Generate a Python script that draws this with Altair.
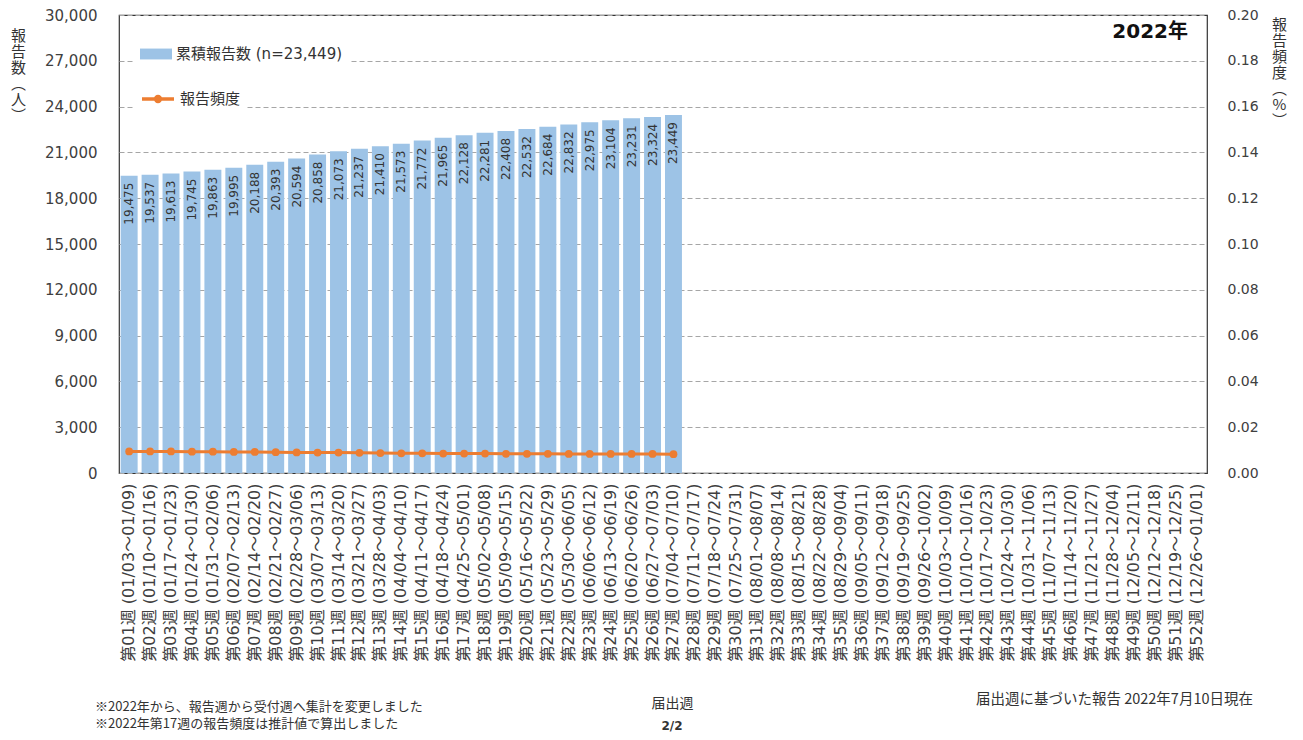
import altair as alt
import pandas as pd

weeks = [
    "第01週 (01/03～01/09)", "第02週 (01/10～01/16)", "第03週 (01/17～01/23)", "第04週 (01/24～01/30)",
    "第05週 (01/31～02/06)", "第06週 (02/07～02/13)", "第07週 (02/14～02/20)", "第08週 (02/21～02/27)",
    "第09週 (02/28～03/06)", "第10週 (03/07～03/13)", "第11週 (03/14～03/20)", "第12週 (03/21～03/27)",
    "第13週 (03/28～04/03)", "第14週 (04/04～04/10)", "第15週 (04/11～04/17)", "第16週 (04/18～04/24)",
    "第17週 (04/25～05/01)", "第18週 (05/02～05/08)", "第19週 (05/09～05/15)", "第20週 (05/16～05/22)",
    "第21週 (05/23～05/29)", "第22週 (05/30～06/05)", "第23週 (06/06～06/12)", "第24週 (06/13～06/19)",
    "第25週 (06/20～06/26)", "第26週 (06/27～07/03)", "第27週 (07/04～07/10)", "第28週 (07/11～07/17)",
    "第29週 (07/18～07/24)", "第30週 (07/25～07/31)", "第31週 (08/01～08/07)", "第32週 (08/08～08/14)",
    "第33週 (08/15～08/21)", "第34週 (08/22～08/28)", "第35週 (08/29～09/04)", "第36週 (09/05～09/11)",
    "第37週 (09/12～09/18)", "第38週 (09/19～09/25)", "第39週 (09/26～10/02)", "第40週 (10/03～10/09)",
    "第41週 (10/10～10/16)", "第42週 (10/17～10/23)", "第43週 (10/24～10/30)", "第44週 (10/31～11/06)",
    "第45週 (11/07～11/13)", "第46週 (11/14～11/20)", "第47週 (11/21～11/27)", "第48週 (11/28～12/04)",
    "第49週 (12/05～12/11)", "第50週 (12/12～12/18)", "第51週 (12/19～12/25)", "第52週 (12/26～01/01)",
]

reports = [19475, 19537, 19613, 19745, 19863, 19995, 20188, 20393, 20594, 20858,
           21073, 21237, 21410, 21573, 21772, 21965, 22128, 22281, 22408, 22532,
           22684, 22832, 22975, 23104, 23231, 23324, 23449]

freq = [0.0094, 0.0094, 0.0094, 0.0093, 0.0093, 0.0092, 0.0092, 0.0091, 0.0090, 0.0089,
        0.0089, 0.0088, 0.0087, 0.0086, 0.0086, 0.0085, 0.0085, 0.0085, 0.0084, 0.0084,
        0.0084, 0.0083, 0.0083, 0.0083, 0.0083, 0.0083, 0.0082]

left_ticks = [0, 3000, 6000, 9000, 12000, 15000, 18000, 21000, 24000, 27000, 30000]
right_ticks = [0.0, 0.02, 0.04, 0.06, 0.08, 0.10, 0.12, 0.14, 0.16, 0.18, 0.20]

bar_series = "累積報告数 (n=23,449)"
line_series = "報告頻度"
year_label = "2022年"
x_title = "届出週"
note1 = "※2022年から、報告週から受付週へ集計を変更しました"
note2 = "※2022年第17週の報告頻度は推計値で算出しました"
note_right = "届出週に基づいた報告 2022年7月10日現在"
page_label = "2/2"
left_title = ["報", "告", "数", "︵", "人", "︶"]
right_title = ["報", "告", "頻", "度", "︵", "%", "︶"]

BAR_COLOR = "#9DC3E6"
LINE_COLOR = "#ED7D31"
FONT_MIX = "DejaVu Sans, Noto Sans CJK JP"
FONT_JP = "Noto Sans CJK JP"

n = len(weeks)
df = pd.DataFrame({
    "week": weeks,
    "reports": reports + [None] * (n - len(reports)),
    "freq": freq + [None] * (n - len(freq)),
})
df["bar_series"] = bar_series
df["line_series"] = line_series

W, H = 1088, 458

x = alt.X(
    "week:N", sort=weeks,
    scale=alt.Scale(domain=weeks, paddingInner=0.19, paddingOuter=0.08),
    axis=alt.Axis(
        labelAngle=270, labelAlign="right", labelBaseline="middle", labelPadding=10,
        ticks=False, domain=False, labelFont=FONT_MIX, labelFontSize=16, labelColor="#404040",
        labelOverlap=False, labelLimit=300,
        title=x_title, titleFont=FONT_JP, titleFontSize=14, titleFontWeight="normal",
        titleColor="#333", titleX=553, titleY=230, titleAlign="center", titleBaseline="middle",
    ),
)

y_left_scale = alt.Scale(domain=[0, 30000], nice=False, zero=True)
y_right_scale = alt.Scale(domain=[0, 0.2], nice=False, zero=True)

left_axis = alt.Axis(
    orient="left", values=left_ticks, format=",d", ticks=False, domain=False, labelPadding=22,
    labelFont="DejaVu Sans", labelFontSize=15, labelColor="#404040",
    grid=True, gridDash=[5, 3], gridColor="#a6a6a6", gridWidth=1,
    title=left_title, titleAngle=0, titleX=-101, titleY=13, titleAlign="center",
    titleBaseline="top", titleFont=FONT_JP, titleFontSize=15, titleFontWeight="normal",
    titleColor="#333", titleLineHeight=16,
)
right_axis = alt.Axis(
    orient="right", values=right_ticks, format=".2f", ticks=False, domain=False,
    labelPadding=20, labelFont="DejaVu Sans", labelFontSize=14, labelColor="#404040",
    grid=False,
    title=right_title, titleAngle=0, titleX=72, titleY=2, titleAlign="center",
    titleBaseline="top", titleFont=FONT_JP, titleFontSize=15, titleFontWeight="normal",
    titleColor="#333", titleLineHeight=16,
)

leg1 = alt.Legend(
    title=None, orient="none", legendX=15, legendY=17,
    symbolType="M-1,-0.34H1V0.34H-1Z", symbolSize=1024, symbolStrokeWidth=0,
    labelFont=FONT_MIX, labelFontSize=15, labelColor="#333", labelOffset=4, labelLimit=400,
    fillColor="white", padding=6,
)
leg2 = alt.Legend(
    title=None, orient="none", legendX=15, legendY=60,
    symbolType="M-1,0H1M-0.15,0A0.15,0.15,0,1,1,0.15,0A0.15,0.15,0,1,1,-0.15,0",
    symbolSize=1024, symbolStrokeWidth=3.5,
    labelFont=FONT_MIX, labelFontSize=15, labelColor="#333", labelOffset=4, labelLimit=400,
    labelExpr="datum.label + '" + "\u00a0" * 22 + "'",
    fillColor="white", padding=6,
)

bars = alt.Chart(df).transform_filter("isValid(datum.reports)").mark_bar().encode(
    x=x,
    y=alt.Y("reports:Q", scale=y_left_scale, axis=left_axis),
    fill=alt.Fill("bar_series:N", scale=alt.Scale(domain=[bar_series], range=[BAR_COLOR]), legend=leg1),
)

bar_text = alt.Chart(df).transform_filter("isValid(datum.reports)").mark_text(
    angle=270, align="right", baseline="middle", dx=-7,
    font="DejaVu Sans", fontSize=12, color="#333",
).encode(
    x=x,
    y=alt.Y("reports:Q", scale=y_left_scale, axis=None),
    text=alt.Text("reports:Q", format=",d"),
)

line = alt.Chart(df).transform_filter("isValid(datum.freq)").mark_line(strokeWidth=3).encode(
    x=x,
    y=alt.Y("freq:Q", scale=y_right_scale, axis=right_axis),
    stroke=alt.Stroke("line_series:N", scale=alt.Scale(domain=[line_series], range=[LINE_COLOR]), legend=leg2),
)
pts = alt.Chart(df).transform_filter("isValid(datum.freq)").mark_circle(
    size=60, color=LINE_COLOR, opacity=1
).encode(
    x=x,
    y=alt.Y("freq:Q", scale=y_right_scale, axis=None),
)


def note(text, xv, yv, size, align="left", weight="normal", font=FONT_JP, color="#333"):
    return alt.Chart(pd.DataFrame({"t": [text]})).mark_text(
        align=align, baseline="middle", font=font, fontSize=size, fontWeight=weight, color=color,
    ).encode(x=alt.value(xv), y=alt.value(yv), text="t:N")


layers = [
    bars, bar_text, line, pts,
    note(year_label, 1069, 17, 20, align="right", weight="bold", font=FONT_MIX, color="#111"),
    note(note1, -24, 692, 13),
    note(note2, -24, 709, 13),
    note(note_right, 1134, 685, 14.5, align="right"),
    note(page_label, 553, 711, 12, align="center", weight="bold", font="DejaVu Sans"),
]

chart = alt.layer(*layers).resolve_scale(
    y="independent"
).properties(
    width=W, height=H,
    autosize=alt.AutoSizeParams(type="none"),
    padding={"left": 111, "top": 7, "right": 86, "bottom": 259},
    background="white",
).configure_view(stroke="#333", strokeWidth=1.2)

chart.save("out.html", embed_options={"renderer": "svg", "actions": False})
